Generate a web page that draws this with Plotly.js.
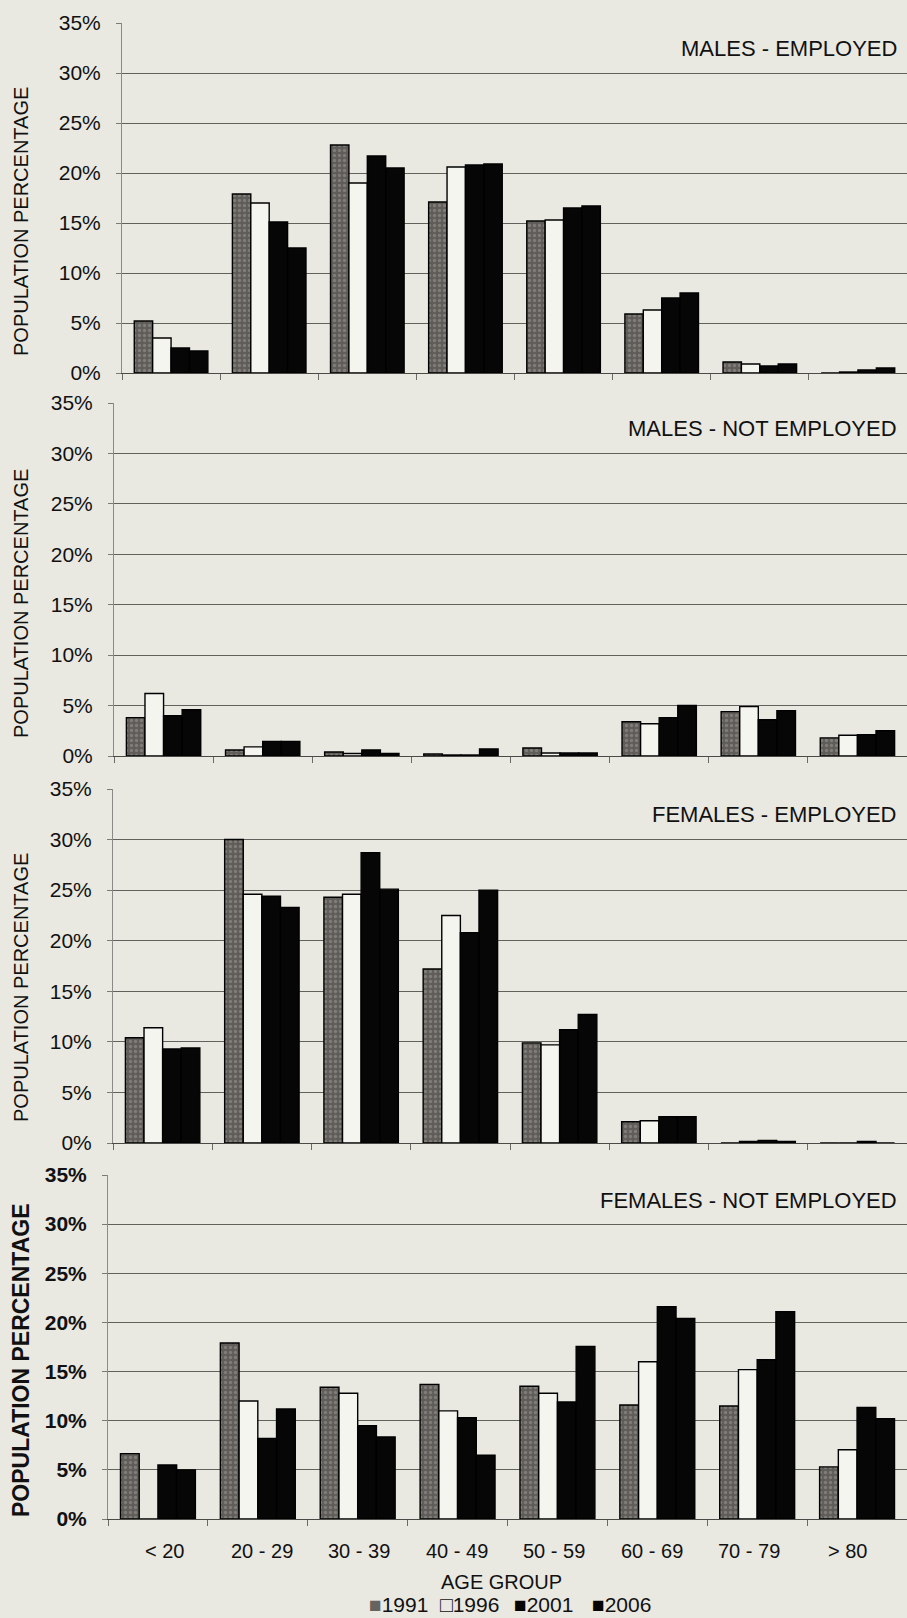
<!DOCTYPE html>
<html>
<head>
<meta charset="utf-8">
<script src="https://cdn.plot.ly/plotly-3.0.1.min.js"></script>
<style>
  html, body { margin: 0; padding: 0; background: #e9e8e1; }
  #chart { width: 907px; height: 1618px; }
</style>
</head>
<body>
<div id="chart"></div>
<script>
// ---- Data (population percentage by age group) ----
const ageGroups = ['< 20', '20 - 29', '30 - 39', '40 - 49', '50 - 59', '60 - 69', '70 - 79', '> 80'];
const years = ['1991', '1996', '2001', '2006'];
const yTicks = [0, 5, 10, 15, 20, 25, 30, 35];

const panelTitles = ['MALES - EMPLOYED', 'MALES - NOT EMPLOYED', 'FEMALES - EMPLOYED', 'FEMALES - NOT EMPLOYED'];

const malesEmployed1991 = [5.2, 17.9, 22.8, 17.1, 15.2, 5.9, 1.1, 0.0];
const malesEmployed1996 = [3.5, 17.0, 19.0, 20.6, 15.3, 6.3, 0.9, 0.1];
const malesEmployed2001 = [2.5, 15.1, 21.7, 20.8, 16.5, 7.5, 0.7, 0.3];
const malesEmployed2006 = [2.2, 12.5, 20.5, 20.9, 16.7, 8.0, 0.9, 0.5];

const malesNotEmployed1991 = [3.8, 0.6, 0.4, 0.2, 0.8, 3.4, 4.4, 1.8];
const malesNotEmployed1996 = [6.2, 0.9, 0.25, 0.1, 0.3, 3.2, 4.9, 2.05];
const malesNotEmployed2001 = [4.0, 1.45, 0.6, 0.1, 0.3, 3.8, 3.6, 2.1];
const malesNotEmployed2006 = [4.6, 1.45, 0.25, 0.7, 0.3, 5.0, 4.5, 2.5];

const femalesEmployed1991 = [10.4, 30.0, 24.3, 17.2, 9.9, 2.1, 0.0, 0.0];
const femalesEmployed1996 = [11.4, 24.6, 24.6, 22.5, 9.7, 2.2, 0.15, 0.0];
const femalesEmployed2001 = [9.3, 24.4, 28.7, 20.8, 11.2, 2.6, 0.25, 0.15];
const femalesEmployed2006 = [9.4, 23.3, 25.1, 25.0, 12.7, 2.6, 0.15, 0.0];

const femalesNotEmployed1991 = [6.65, 17.9, 13.4, 13.7, 13.5, 11.6, 11.5, 5.3];
const femalesNotEmployed1996 = [0.0, 12.0, 12.8, 11.0, 12.8, 16.0, 15.2, 7.05];
const femalesNotEmployed2001 = [5.5, 8.2, 9.5, 10.3, 11.9, 21.6, 16.2, 11.35];
const femalesNotEmployed2006 = [5.0, 11.2, 8.35, 6.5, 17.55, 20.4, 21.1, 10.2];

const panels = [
  [malesEmployed1991, malesEmployed1996, malesEmployed2001, malesEmployed2006],
  [malesNotEmployed1991, malesNotEmployed1996, malesNotEmployed2001, malesNotEmployed2006],
  [femalesEmployed1991, femalesEmployed1996, femalesEmployed2001, femalesEmployed2006],
  [femalesNotEmployed1991, femalesNotEmployed1996, femalesNotEmployed2001, femalesNotEmployed2006]
];

// ---- Layout geometry (pixels in a 907 x 1618 page) ----
const W = 907, H = 1618;
const px = v => v / W;
const py = v => 1 - v / H;
const panelTop    = [23, 403, 789, 1175];
const panelBottom = [373, 756, 1143, 1519];
const panelLeft   = [122, 114, 113, 108];
const yTitleCenter = [222, 604, 988, 1360];
const legendLeft = [367, 438, 512, 590];
const labelShift = [7, 4, 1, -1, -3, -5, -8, -10];

const FONT = 'Liberation Sans, Arial, Helvetica, sans-serif';
const BG = '#e9e8e1';
const GRID = '#62625d';

const styles = [
  { color: '#5f5c59', pattern: { shape: '.', fillmode: 'overlay', fgcolor: '#a29e98', size: 5, solidity: 0.35 } },
  { color: '#f5f5f0' },
  { color: '#060606' },
  { color: '#060606' }
];
const legendGlyphs = [
  '<span style="color:#66635f">■</span>',
  '<span style="color:#111">□</span>',
  '<span style="color:#060606">■</span>',
  '<span style="color:#060606">■</span>'
];

const traces = [];
panels.forEach((series, p) => {
  const suffix = p === 0 ? '' : String(p + 1);
  series.forEach((vals, s) => {
    const marker = { color: styles[s].color, line: { color: '#000', width: 1.4 } };
    if (styles[s].pattern) marker.pattern = styles[s].pattern;
    traces.push({
      type: 'bar',
      name: years[s],
      x: ageGroups,
      y: vals,
      xaxis: 'x' + suffix,
      yaxis: 'y' + suffix,
      marker: marker,
      showlegend: false,
      legendgroup: years[s],
      hoverinfo: 'x+y+name'
    });
  });
});

const layout = {
  width: W, height: H,
  autosize: false,
  margin: { l: 0, r: 0, t: 0, b: 0, pad: 0 },
  paper_bgcolor: BG,
  plot_bgcolor: BG,
  font: { family: FONT, color: '#111', size: 20 },
  barmode: 'group',
  bargap: 0.25,
  bargroupgap: 0,
  showlegend: false,
  annotations: []
};

panels.forEach((series, p) => {
  const suffix = p === 0 ? '' : String(p + 1);
  const last = p === panels.length - 1;
  layout['xaxis' + suffix] = {
    domain: [px(panelLeft[p]), 1],
    anchor: 'y' + suffix,
    type: 'category',
    categoryorder: 'array',
    categoryarray: ageGroups,
    range: [-0.5, 7.5],
    showgrid: false,
    zeroline: false,
    showline: true,
    linecolor: '#4a4a46',
    linewidth: 1.2,
    ticks: 'outside',
    tickson: 'boundaries',
    ticklen: 6,
    tickwidth: 1,
    tickcolor: '#6a6a66',
    showticklabels: false,
    fixedrange: true
  };
  layout['yaxis' + suffix] = {
    domain: [py(panelBottom[p]), py(panelTop[p])],
    anchor: 'x' + suffix,
    range: [0, 35],
    tickmode: 'array',
    tickvals: yTicks,
    ticktext: yTicks.map(v => v + '%'),
    showgrid: true,
    gridcolor: GRID,
    gridwidth: 1,
    zeroline: false,
    showline: true,
    linecolor: '#8a8a86',
    linewidth: 1,
    ticks: 'outside',
    ticklen: 5,
    tickcolor: '#7a7a76',
    tickfont: { family: FONT, size: 21, color: '#111', weight: last ? 'bold' : 'normal' },
    ticklabelstandoff: 11,
    fixedrange: true
  };
  layout.annotations.push({
    xref: 'paper', yref: 'paper',
    x: px(899), xanchor: 'right',
    y: py(panelTop[p] + 25), yanchor: 'middle',
    text: panelTitles[p],
    showarrow: false,
    font: { family: FONT, size: 22, color: '#111' }
  });
  layout.annotations.push({
    xref: 'paper', yref: 'paper',
    x: px(21), xanchor: 'center',
    y: py(yTitleCenter[p]), yanchor: 'middle',
    text: 'POPULATION PERCENTAGE',
    textangle: -90,
    showarrow: false,
    font: { family: FONT, size: last ? 23 : 20, color: '#111', weight: last ? 'bold' : 'normal' }
  });
});

// Category tick labels on the bottom panel, placed through the x4 category scale
ageGroups.forEach((g, i) => {
  layout.annotations.push({
    xref: 'x4', yref: 'paper',
    x: g, xanchor: 'center', xshift: labelShift[i],
    y: py(1551), yanchor: 'middle',
    text: g,
    showarrow: false,
    font: { family: FONT, size: 20, color: '#111' }
  });
});

layout.annotations.push({
  xref: 'paper', yref: 'paper',
  x: px(501), xanchor: 'center',
  y: py(1582), yanchor: 'middle',
  text: 'AGE GROUP',
  showarrow: false,
  font: { family: FONT, size: 20, color: '#111' }
});

// Legend entries
years.forEach((yr, s) => {
  layout.annotations.push({
    xref: 'paper', yref: 'paper',
    x: px(legendLeft[s]), xanchor: 'left',
    y: py(1604), yanchor: 'middle',
    text: legendGlyphs[s] + yr,
    showarrow: false,
    font: { family: FONT, size: 21, color: '#111' }
  });
});

Plotly.newPlot('chart', traces, layout, { staticPlot: true, displayModeBar: false });
</script>
</body>
</html>
